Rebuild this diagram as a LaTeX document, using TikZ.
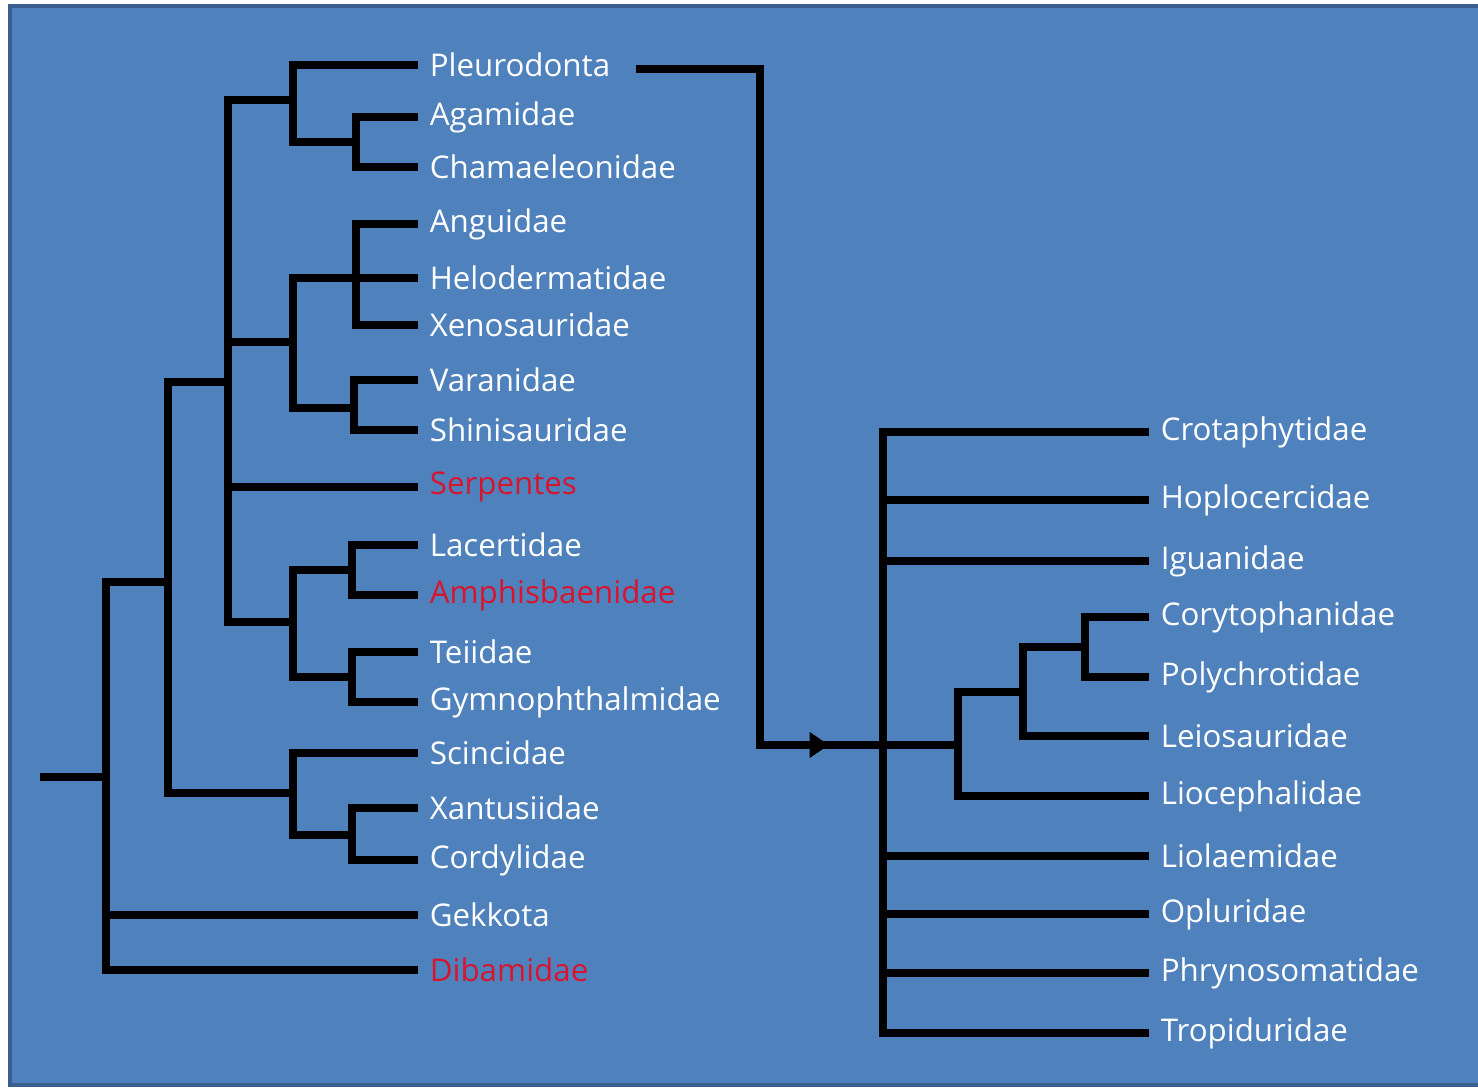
\documentclass[tikz,border=0pt]{standalone}
\usepackage{fontspec}
\setmainfont{Open Sans}
\usepackage{tikz}
\usetikzlibrary{arrows.meta}
\usetikzlibrary{calc}
\definecolor{slideblue}{HTML}{4F81BD}
\definecolor{slideedge}{HTML}{3A5F8E}
\definecolor{taxred}{HTML}{D8152E}
\tikzstyle{branch} = [line width=2pt, line cap=rect, line join=miter, black]
\tikzstyle{taxon} = [anchor=west, inner xsep=4.3pt, inner ysep=0pt, text=white, font=\fontsize{8.9}{11}\selectfont]
\tikzstyle{redtaxon} = [taxon, text=taxred]

\begin{document}
\begin{tikzpicture}[x=0.01cm,y=-0.01cm]
\useasboundingbox (0,0) rectangle (1478,1087);
\fill[slideblue, draw=slideedge, line width=0.9pt] (10,6) rectangle (1500,1085);

% Nodes (left tree)
\node[taxon] (pleu) at (414,65) {Pleurodonta};
\node[taxon] (agam) at (414,117) {Agamidae};
\node[taxon] (cham) at (414,167) {Chamaeleonidae};
\node[taxon] (angu) at (414,224) {Anguidae};
\node[taxon] (helo) at (414,278) {Helodermatidae};
\node[taxon] (xeno) at (414,325) {Xenosauridae};
\node[taxon] (vara) at (414,380) {Varanidae};
\node[taxon] (shin) at (414,430) {Shinisauridae};
\node[redtaxon] (serp) at (414,487) {Serpentes};
\node[taxon] (lace) at (414,545) {Lacertidae};
\node[redtaxon] (amph) at (414,595) {Amphisbaenidae};
\node[taxon] (teii) at (414,652) {Teiidae};
\node[taxon] (gymn) at (414,702) {Gymnophthalmidae};
\node[taxon] (scin) at (414,753) {Scincidae};
\node[taxon] (xant) at (414,808) {Xantusiidae};
\node[taxon] (cord) at (414,860) {Cordylidae};
\node[taxon] (gekk) at (414,915) {Gekkota};
\node[redtaxon] (diba) at (414,970) {Dibamidae};

\coordinate (stem) at (44,777);
\coordinate (sq) at (106,777);
\coordinate (a) at (168,582);
\coordinate (b) at (228,382);
\coordinate (c) at (293,793);
\coordinate (d) at (293,100);
\coordinate (e) at (293,342);
\coordinate (f) at (293,622);
\coordinate (g) at (356,142);
\coordinate (h) at (356,278);
\coordinate (i) at (354,408);
\coordinate (j) at (352,570);
\coordinate (k) at (352,677);
\coordinate (l) at (352,835);

% Nodes (right tree)
\node[taxon] (crot) at (1145,432) {Crotaphytidae};
\node[taxon] (hopl) at (1145,500) {Hoplocercidae};
\node[taxon] (igua) at (1145,561) {Iguanidae};
\node[taxon] (cory) at (1145,617) {Corytophanidae};
\node[taxon] (poly) at (1145,677) {Polychrotidae};
\node[taxon] (leio) at (1145,736) {Leiosauridae};
\node[taxon] (lioc) at (1145,796) {Liocephalidae};
\node[taxon] (liol) at (1145,856) {Liolaemidae};
\node[taxon] (oplu) at (1145,914) {Opluridae};
\node[taxon] (phry) at (1145,973) {Phrynosomatidae};
\node[taxon] (trop) at (1145,1033) {Tropiduridae};

\coordinate (pleuout) at (640,69);
\coordinate (bend) at (760,745);
\coordinate (tip) at (829,745);
\coordinate (m) at (883,745);
\coordinate (n) at (958,745);
\coordinate (o) at (1023,692);
\coordinate (p) at (1085,647);

% Edges (left tree)
\draw[branch] (stem) -- (sq);
\draw[branch] (sq) |- (a);
\draw[branch] (sq) |- (gekk.west);
\draw[branch] (sq) |- (diba.west);
\draw[branch] (a) |- (b);
\draw[branch] (a) |- (c);
\draw[branch] (b) |- (d);
\draw[branch] (b) |- (e);
\draw[branch] (b) |- (serp.west);
\draw[branch] (b) |- (f);
\draw[branch] (d) |- (pleu.west);
\draw[branch] (d) |- (g);
\draw[branch] (g) |- (agam.west);
\draw[branch] (g) |- (cham.west);
\draw[branch] (e) |- (h);
\draw[branch] (e) |- (i);
\draw[branch] (h) |- (angu.west);
\draw[branch] (h) |- (helo.west);
\draw[branch] (h) |- (xeno.west);
\draw[branch] (i) |- (vara.west);
\draw[branch] (i) |- (shin.west);
\draw[branch] (f) |- (j);
\draw[branch] (f) |- (k);
\draw[branch] (j) |- (lace.west);
\draw[branch] (j) |- (amph.west);
\draw[branch] (k) |- (teii.west);
\draw[branch] (k) |- (gymn.west);
\draw[branch] (c) |- (scin.west);
\draw[branch] (c) |- (l);
\draw[branch] (l) |- (xant.west);
\draw[branch] (l) |- (cord.west);

% Edges (Pleurodonta expanded)
\draw[branch] (pleuout) -| (bend);
\draw[branch] (bend) -- (m);
\draw[branch, -{Triangle[length=5.5pt, width=7pt]}] (bend) -- (tip);
\draw[branch] (m) |- (crot.west);
\draw[branch] (m) |- (hopl.west);
\draw[branch] (m) |- (igua.west);
\draw[branch] (m) -- (n);
\draw[branch] (m) |- (liol.west);
\draw[branch] (m) |- (oplu.west);
\draw[branch] (m) |- (phry.west);
\draw[branch] (m) |- (trop.west);
\draw[branch] (n) |- (o);
\draw[branch] (n) |- (lioc.west);
\draw[branch] (o) |- (p);
\draw[branch] (o) |- (leio.west);
\draw[branch] (p) |- (cory.west);
\draw[branch] (p) |- (poly.west);

\end{tikzpicture}
\end{document}
